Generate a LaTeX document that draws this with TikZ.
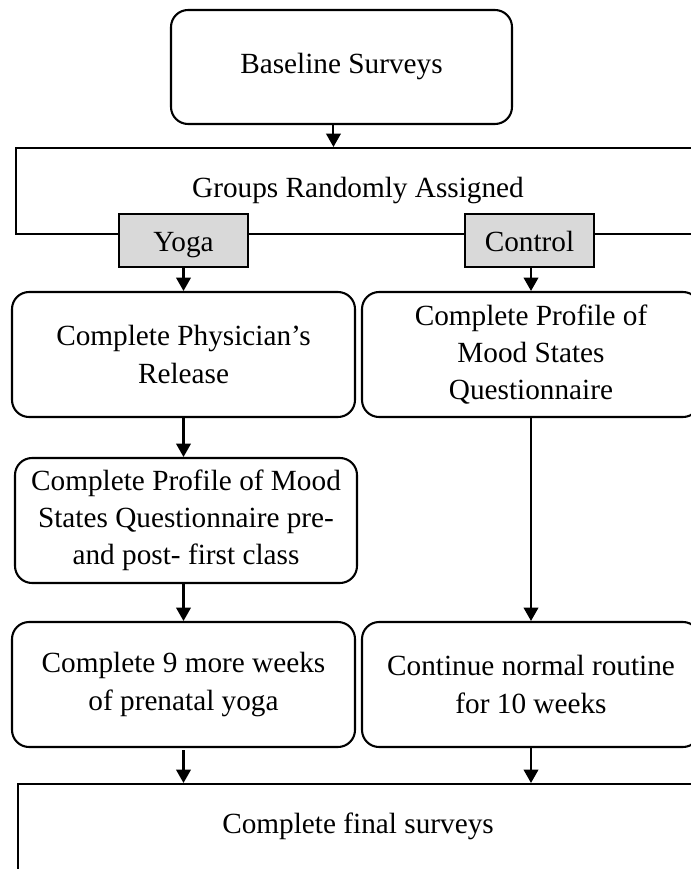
\documentclass[tikz,border=0pt]{standalone}
\usepackage{fontspec}
\setmainfont{Liberation Serif}
\usetikzlibrary{arrows.meta}
\begin{document}
\begin{tikzpicture}[x=0.41pt,y=-0.41pt,
  every node/.style={font=\fontsize{12}{15.2}\selectfont, align=center, inner sep=0pt},
  rbox/.style={draw, rounded corners=7pt, line width=0.85pt},
  sbox/.style={draw, line width=0.85pt},
  tabbox/.style={draw, fill=gray!30, line width=0.85pt, minimum width=52.89pt, minimum height=21.73pt, text height=10pt, text depth=0.6pt},
  arr/.style={-{Triangle[length=5.5pt,width=6pt]}, line width=0.85pt}]
\clip (0,0) rectangle (691,869);
% boxes
\node[rbox, minimum width=139.81pt, minimum height=46.74pt] (base) at (341.5,67) {Baseline Surveys};
\node[sbox, minimum width=280.44pt, minimum height=35.26pt] (groups) at (358,191) {Groups Randomly Assigned};
\node[tabbox] (ytab) at (183.5,240.5) {Yoga};
\node[tabbox] (ctab) at (529.5,240.5) {Control};
\node[rbox, minimum width=140.63pt, minimum height=51.25pt] (y1) at (183.5,354.5) {Complete Physician’s\\Release};
\node[rbox, minimum width=138.58pt, minimum height=51.25pt] (c1) at (531,354.5) {Complete Profile of\\Mood States\\Questionnaire};
\node[rbox, minimum width=140.22pt, minimum height=51.25pt] (y2) at (186,520.5) {Complete Profile of Mood\\States Questionnaire pre-\\and post- first class};
\node[rbox, minimum width=140.63pt, minimum height=51.25pt] (y3) at (183.5,684.5) {Complete 9 more weeks\\of prenatal yoga};
\node[rbox, minimum width=138.58pt, minimum height=51.25pt] (c3) at (531,684.5) {Continue normal routine\\for 10 weeks};
\node[sbox, minimum width=279.62pt, minimum height=55.76pt] (final) at (359,852) {};
\node (ftext) at (358,826) {Complete final surveys};
% connectors
\draw[arr] ([xshift=-3.3pt]base.south) -- ([xshift=-3.3pt]base.south |- groups.north);
\draw[arr] (ytab.south) -- (ytab.south |- y1.north);
\draw[arr] (c1.north |- ctab.south) -- (c1.north);
\draw[arr] (y1.south) -- (y1.south |- y2.north);
\draw[arr] (c1.south) -- (c3.north);
\draw[arr] (y3.north |- y2.south) -- (y3.north);
\draw[arr] ([yshift=-1pt]y3.south) -- (y3.south |- final.north);
\draw[arr] (c3.south) -- (c3.south |- final.north);
\end{tikzpicture}
\end{document}
